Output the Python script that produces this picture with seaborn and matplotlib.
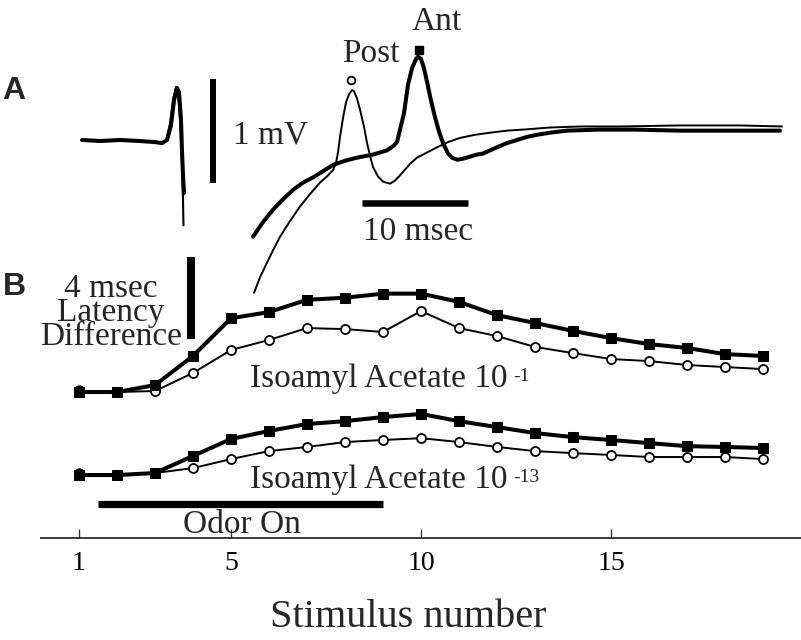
import numpy as np
import pandas as pd
import matplotlib
matplotlib.use("Agg")
import matplotlib.pyplot as plt
import seaborn as sns

# ---------------- Panel A: field potential traces (time in ms, potential in mV)
art_thick_t = [0.19, 1.89, 3.77, 5.66, 7.08, 7.74, 8.21, 8.58, 8.87, 9.15, 9.34, 9.53, 9.62, 9.72, 9.81]
art_thick_v = [0.00, -0.01, 0.00, -0.01, -0.02, -0.03, 0.00, 0.14, 0.38, 0.50, 0.46, 0.19, -0.10, -0.34, -0.51]
art_thin_t = [0.19, 1.89, 3.77, 5.66, 7.08, 7.74, 8.15, 8.50, 8.80, 9.06, 9.25, 9.48, 9.62, 9.72, 9.76]
art_thin_v = [0.00, 0.00, 0.00, -0.01, -0.02, -0.03, 0.00, 0.16, 0.40, 0.51, 0.45, 0.14, -0.24, -0.58, -0.82]

ant_t = [16.32, 17.26, 18.21, 19.15, 20.09, 21.04, 21.98, 22.92, 23.87, 25.00, 26.13, 27.64, 28.96,
         29.53, 29.91, 30.19, 30.57, 30.94, 31.32, 31.70, 31.89, 32.17, 32.45, 32.74, 33.11, 33.49,
         33.87, 34.25, 34.72, 35.09, 35.57, 36.13, 36.79, 37.45, 38.02, 38.68, 39.34, 40.28, 41.23,
         42.17, 43.11, 44.34, 45.94, 49.06, 52.17, 56.60, 60.38, 66.04]
ant_v = [-0.93, -0.79, -0.67, -0.57, -0.48, -0.41, -0.36, -0.30, -0.24, -0.20, -0.17, -0.14, -0.10,
         -0.06, -0.02, 0.10, 0.26, 0.53, 0.69, 0.78, 0.80, 0.78, 0.69, 0.56, 0.38, 0.22,
         0.08, -0.03, -0.13, -0.17, -0.19, -0.18, -0.16, -0.14, -0.13, -0.10, -0.07, -0.03, 0.00,
         0.03, 0.05, 0.07, 0.09, 0.10, 0.10, 0.09, 0.09, 0.09]

post_t = [16.42, 16.98, 17.64, 18.21, 18.87, 19.81, 20.75, 21.70, 22.64, 23.30, 23.87, 24.15, 24.34,
          24.53, 24.81, 25.09, 25.38, 25.66, 25.85, 26.13, 26.42, 26.79, 27.08, 27.36, 27.64, 28.11,
          28.58, 29.25, 29.72, 30.19, 31.13, 31.79, 32.74, 33.68, 34.72, 35.85, 37.26, 38.68, 40.28,
          41.79, 44.34, 47.17, 50.94, 56.60, 62.26, 66.23]
post_v = [-1.47, -1.32, -1.18, -1.06, -0.93, -0.78, -0.64, -0.52, -0.41, -0.35, -0.29, -0.22, -0.12,
          0.03, 0.21, 0.36, 0.44, 0.48, 0.47, 0.40, 0.29, 0.13, -0.03, -0.15, -0.26, -0.35,
          -0.40, -0.42, -0.39, -0.34, -0.23, -0.17, -0.12, -0.07, -0.02, 0.02, 0.05, 0.07, 0.09,
          0.10, 0.12, 0.13, 0.13, 0.14, 0.14, 0.13]

mv_bar = [-0.41, 0.59]        # 1 mV scale bar
ms_bar = [26.6, 36.6]         # 10 msec scale bar

# ---------------- Panel B: latency difference (msec) vs stimulus number
stimulus = list(range(1, 20))
ant_iso1 = [0.00, 0.00, 0.34, 1.76, 3.60, 3.90, 4.50, 4.60, 4.80, 4.80, 4.40, 3.75, 3.37, 2.98, 2.63, 2.34, 2.15, 1.85, 1.76]
post_iso1 = [0.00, 0.00, 0.05, 0.93, 2.05, 2.54, 3.12, 3.07, 2.93, 3.95, 3.12, 2.73, 2.20, 1.90, 1.61, 1.51, 1.32, 1.22, 1.12]
ant_iso13 = [0.00, 0.00, 0.10, 0.93, 1.76, 2.15, 2.49, 2.63, 2.83, 2.98, 2.63, 2.34, 2.05, 1.85, 1.71, 1.56, 1.41, 1.37, 1.32]
post_iso13 = [0.00, 0.00, 0.10, 0.34, 0.78, 1.17, 1.37, 1.61, 1.71, 1.80, 1.61, 1.37, 1.17, 1.07, 0.98, 0.88, 0.88, 0.88, 0.78]
xticks = [1, 5, 10, 15]
odor_on = [1.5, 9.0]
lat_bar = [0.0, 4.0]          # 4 msec scale bar

# ---------------- style
sns.set_style("white")
plt.rcParams["font.family"] = ["Liberation Serif", "DejaVu Serif"]

W, H = 801, 640
fig = plt.figure(figsize=(W / 100, H / 100), dpi=100)

# Panel B axes
axB = fig.add_axes([41 / W, 102 / H, 760 / W, 298 / H])
axB.patch.set_alpha(0)
axB.set_xlim(0, 20)
axB.set_ylim(0, 298 / 20.5)
off_hi, off_lo = 7.12, 3.07

rows = []
for name, vals, off in [("ant1", ant_iso1, off_hi), ("post1", post_iso1, off_hi),
                        ("ant13", ant_iso13, off_lo), ("post13", post_iso13, off_lo)]:
    for s, v in zip(stimulus, vals):
        rows.append({"stimulus": s, "latency": v, "series": name, "plotted": v + off})
df = pd.DataFrame(rows)

for name in ["post1", "post13"]:
    sub = df[df.series == name]
    sns.lineplot(data=sub, x="stimulus", y="plotted", ax=axB, color="black", lw=1.4,
                 marker="o", markersize=6.5, markerfacecolor="white", markeredgecolor="black",
                 markeredgewidth=1.3, estimator=None, sort=False, zorder=3)
    axB.plot(sub.stimulus.iloc[0], sub.plotted.iloc[0] + 0.12, "o", color="black", ms=6.5, zorder=5)
for name in ["ant1", "ant13"]:
    sub = df[df.series == name]
    sns.lineplot(data=sub, x="stimulus", y="plotted", ax=axB, color="black", lw=2.9,
                 marker="s", markersize=6.5, markerfacecolor="black", markeredgecolor="black",
                 estimator=None, sort=False, zorder=4)

axB.set_xticks(xticks)
axB.set_xticklabels([str(t) for t in xticks], fontsize=20)
axB.set_yticks([])
for side in ["left", "top", "right"]:
    axB.spines[side].set_visible(False)
axB.spines["bottom"].set_color("#3a3a3a")
axB.spines["bottom"].set_linewidth(1.4)
axB.tick_params(axis="x", bottom=True, direction="in", length=6.5, width=1.0, color="#3a3a3a",
                pad=9.5, labelcolor="black")
axB.set_ylabel("")
axB.set_xlabel("Stimulus number", fontsize=29, va="baseline")
axB.xaxis.set_label_coords((408 - 41) / 760, (538 - 627) / 298)

def bx(px):
    return 1 + (px - 79) / 38
def by(py):
    return (538 - py) / 20.5

# odor bar
axB.plot(odor_on, [by(503.5)] * 2, color="black", lw=5.2, solid_capstyle="butt")
axB.text(5.28, by(533), "Odor On", fontsize=24, ha="center", va="baseline")

# 4 msec bar
lb = by(339)
axB.plot([bx(191)] * 2, [lb + lat_bar[0], lb + lat_bar[1]], color="black", lw=5.8, solid_capstyle="butt")
axB.text(bx(111), by(345), "4 msec\nLatency\nDifference", fontsize=24, ha="center",
         multialignment="center", va="baseline", linespacing=0.72)

for base_py, sup in [(387, "-1"), (488, "-13")]:
    t = axB.text(bx(250), by(base_py), "Isoamyl Acetate 10", fontsize=24, ha="left", va="baseline")
    axB.annotate(sup, xy=(1, 1), xycoords=t, xytext=(4.5, -3.0), textcoords="offset points",
                 fontsize=14, ha="left", va="top")

# Panel A axes (full figure overlay)
axA = fig.add_axes([0, 0, 1, 1])
axA.patch.set_alpha(0)
axA.set_xlim(-80 / 10.6, 721 / 10.6)
axA.set_ylim(-500 / 104, 140 / 104)
axA.axis("off")

sns.lineplot(x=art_thin_t, y=art_thin_v, ax=axA, color="black", lw=1.5, sort=False, estimator=None)
sns.lineplot(x=art_thick_t, y=art_thick_v, ax=axA, color="black", lw=2.9, sort=False, estimator=None)
sns.lineplot(x=post_t, y=post_v, ax=axA, color="black", lw=1.4, sort=False, estimator=None)
sns.lineplot(x=ant_t, y=ant_v, ax=axA, color="black", lw=2.9, sort=False, estimator=None)

ip = int(np.argmax(post_v))
ia = int(np.argmax(ant_v))
axA.plot(post_t[ip] - 0.1, post_v[ip] + 0.1, "o", ms=5.5, mfc="white", mec="black", mew=1.3)
axA.plot(ant_t[ia] + 0.1, ant_v[ia] + 0.07, "s", ms=6, color="black")
axA.text(24.7, 0.75, "Post", fontsize=24, ha="left", va="baseline")
axA.text(31.3, 1.06, "Ant", fontsize=24, ha="left", va="baseline")

axA.plot([12.55, 12.55], mv_bar, color="black", lw=4.3, solid_capstyle="butt")
axA.text(14.43, -0.03, "1 mV", fontsize=24, ha="left", va="baseline")
axA.plot(ms_bar, [-0.61, -0.61], color="black", lw=4.7, solid_capstyle="butt")
axA.text(sum(ms_bar) / 2 + 0.3, -0.96, "10 msec", fontsize=24, ha="center", va="baseline")

fig.text(2 / W, 1 - 99 / H, "A", fontsize=23, fontweight="bold", family="Liberation Sans",
         ha="left", va="baseline")
fig.text(3 / W, 1 - 295 / H, "B", fontsize=23, fontweight="bold", family="Liberation Sans",
         ha="left", va="baseline")

fig.savefig("out.png", dpi=100)
